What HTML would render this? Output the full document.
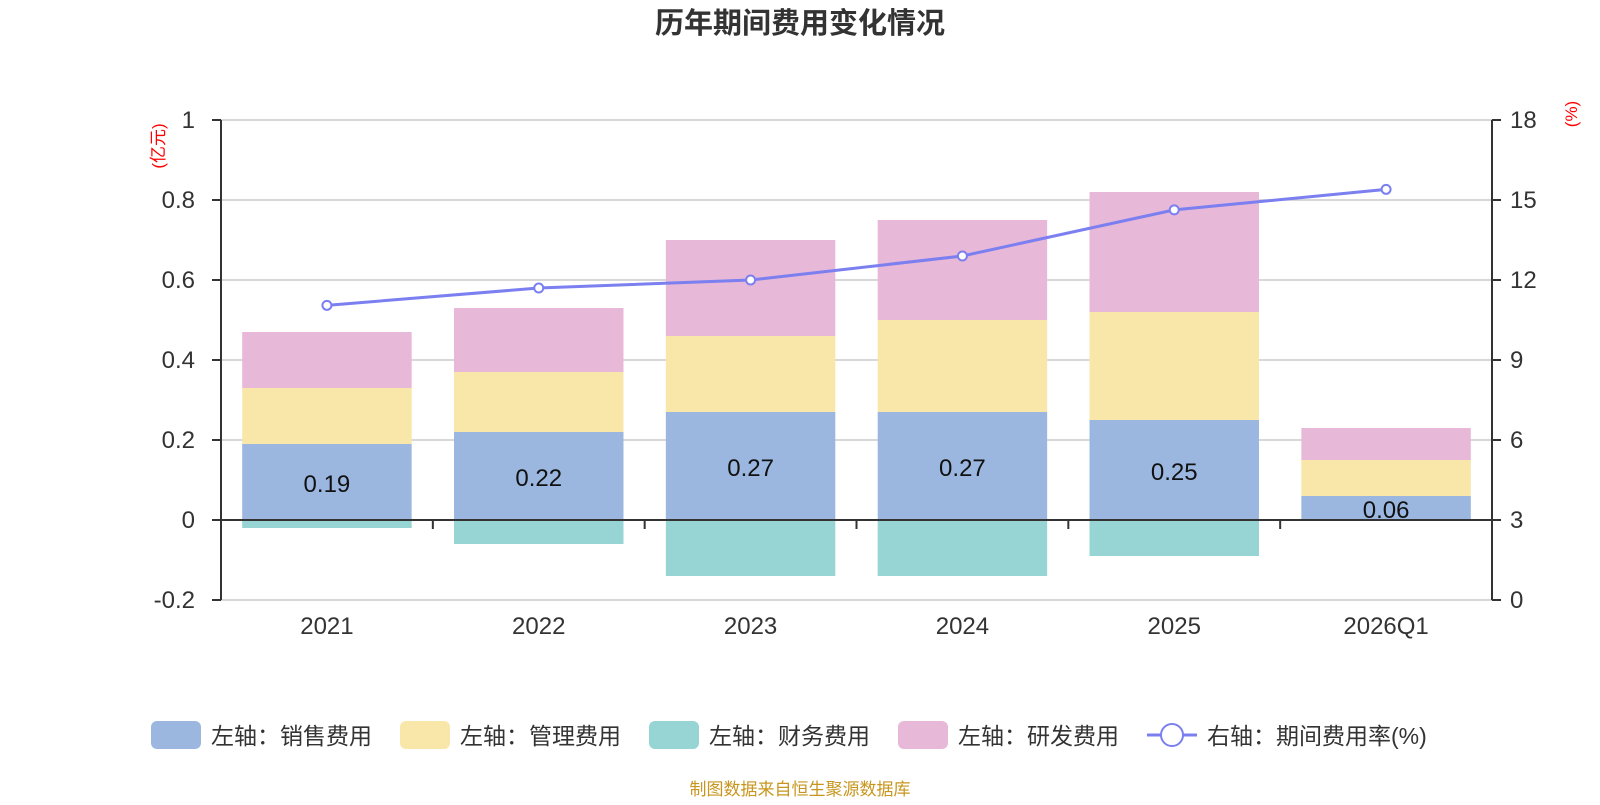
<!DOCTYPE html>
<html><head><meta charset="utf-8"><style>
body{margin:0;background:#fff;}
svg text{font-family:"Liberation Sans","Noto Sans CJK SC",sans-serif;}
</style></head><body>
<svg id="chart" width="1600" height="800" xmlns="http://www.w3.org/2000/svg">
<text x="800" y="33" text-anchor="middle" font-size="29" font-weight="bold" fill="#333">历年期间费用变化情况</text>
<text transform="translate(164,146) rotate(-90)" text-anchor="middle" font-size="17" fill="#f00">(亿元)</text>
<text transform="translate(1577,114) rotate(-90)" text-anchor="middle" font-size="17" fill="#f00">(%)</text>
<g id="grid"></g><g id="bars"></g><g id="axes"></g><g id="line"></g>
<g>
<rect x="151" y="721" width="50" height="28" rx="6" fill="#9bb7e0"/>
<text x="211" y="744" font-size="23" fill="#333">左轴：销售费用</text>
<rect x="400" y="721" width="50" height="28" rx="6" fill="#f8e7a8"/>
<text x="460" y="744" font-size="23" fill="#333">左轴：管理费用</text>
<rect x="649" y="721" width="50" height="28" rx="6" fill="#97d4d4"/>
<text x="709" y="744" font-size="23" fill="#333">左轴：财务费用</text>
<rect x="898" y="721" width="50" height="28" rx="6" fill="#e7b8d8"/>
<text x="958" y="744" font-size="23" fill="#333">左轴：研发费用</text>
<line x1="1147" y1="735" x2="1197" y2="735" stroke="#7b7ff0" stroke-width="3"/>
<circle cx="1172" cy="735" r="11" fill="#fff" stroke="#7b7ff0" stroke-width="2"/>
<text x="1207" y="744" font-size="23" fill="#333">右轴：期间费用率(%)</text>
</g>
<text x="800" y="795" text-anchor="middle" font-size="17" fill="#c8961e">制图数据来自恒生聚源数据库</text>
</svg>
<script>
const categories=["2021","2022","2023","2024","2025","2026Q1"];
const sales=[0.19,0.22,0.27,0.27,0.25,0.06];
const admin=[0.14,0.15,0.19,0.23,0.27,0.09];
const finance=[-0.02,-0.06,-0.14,-0.14,-0.09,0];
const rd=[0.14,0.16,0.24,0.25,0.30,0.08];
const ratio=[11.05,11.7,12.0,12.9,14.63,15.4];
const leftTicks=[-0.2,0,0.2,0.4,0.6,0.8,1];
const rightTicks=[0,3,6,9,12,15,18];
const NS="http://www.w3.org/2000/svg";
const X0=221,X1=1492,Y0=600,Y1=120;
const band=(X1-X0)/categories.length;
const yL=v=>Y0-(v+0.2)/1.2*(Y0-Y1);
const yR=v=>Y0-v/18*(Y0-Y1);
const xc=i=>X0+band*(i+0.5);
function mk(tag,attrs,parent){const e=document.createElementNS(NS,tag);for(const k in attrs)e.setAttribute(k,attrs[k]);document.getElementById(parent).appendChild(e);return e;}
leftTicks.forEach((t,i)=>{
 const y=yL(t);
 const g=mk('line',{x1:X0,x2:X1,y1:y,y2:y,stroke:'#ccc','stroke-width':1.5},'grid');
 
 
 const tk=mk('line',{x1:X0-9,x2:X0,y1:y,y2:y,stroke:'#333','stroke-width':2},'axes');
 
 
 const l=mk('text',{x:X0-26,y:y+8,'text-anchor':'end','font-size':24,fill:'#333'},'axes');
 l.textContent=String(t);
 
 
});
rightTicks.forEach(t=>{
 const y=yR(t);
 const tk=mk('line',{x1:X1,x2:X1+9,y1:y,y2:y,stroke:'#333','stroke-width':2},'axes');
 
 
 const l=mk('text',{x:X1+18,y:y+8,'font-size':24,fill:'#333'},'axes');
 l.textContent=String(t);
 
 
});
const bw=band*0.8;
categories.forEach((c,i)=>{
 const x=xc(i)-bw/2;
 const segs=[[0,sales[i],'#9bb7e0','bar-sales'],[sales[i],sales[i]+admin[i],'#f8e7a8','bar-admin'],[sales[i]+admin[i],sales[i]+admin[i]+rd[i],'#e7b8d8','bar-rd'],[finance[i],0,'#97d4d4','bar-finance']];
 segs.forEach(s=>{
  if(s[1]===s[0])return;
  const r=mk('rect',{x:x,width:bw,y:yL(s[1]),height:yL(s[0])-yL(s[1]),fill:s[2]},'bars');
  
  
 });
 const lt=mk('text',{x:xc(i),y:(yL(0)+yL(sales[i]))/2+10,'text-anchor':'middle','font-size':24,fill:'#111'},'bars');
 lt.textContent=sales[i].toFixed(2);
 
 
 const xl=mk('text',{x:xc(i),y:Y0+34,'text-anchor':'middle','font-size':24,fill:'#333'},'axes');
 xl.textContent=c;
 
 
 if(i>0){const tk=mk('line',{x1:X0+band*i,x2:X0+band*i,y1:yL(0),y2:yL(0)+9,stroke:'#333','stroke-width':2},'axes');
 
 }
});
const za=mk('line',{x1:X0,x2:X1,y1:yL(0),y2:yL(0),stroke:'#333','stroke-width':2},'axes');


const la=mk('line',{x1:X0,x2:X0,y1:Y1,y2:Y0,stroke:'#333','stroke-width':2},'axes');


const ra=mk('line',{x1:X1,x2:X1,y1:Y1,y2:Y0,stroke:'#333','stroke-width':2},'axes');


const pl=mk('polyline',{points:ratio.map((v,i)=>xc(i)+','+yR(v)).join(' '),fill:'none',stroke:'#7b7ff0','stroke-width':3},'line');


ratio.forEach((v,i)=>{
 const c=mk('circle',{cx:xc(i),cy:yR(v),r:4.5,fill:'#fff',stroke:'#7b7ff0','stroke-width':2},'line');
 
 
});
</script>
</body></html>
